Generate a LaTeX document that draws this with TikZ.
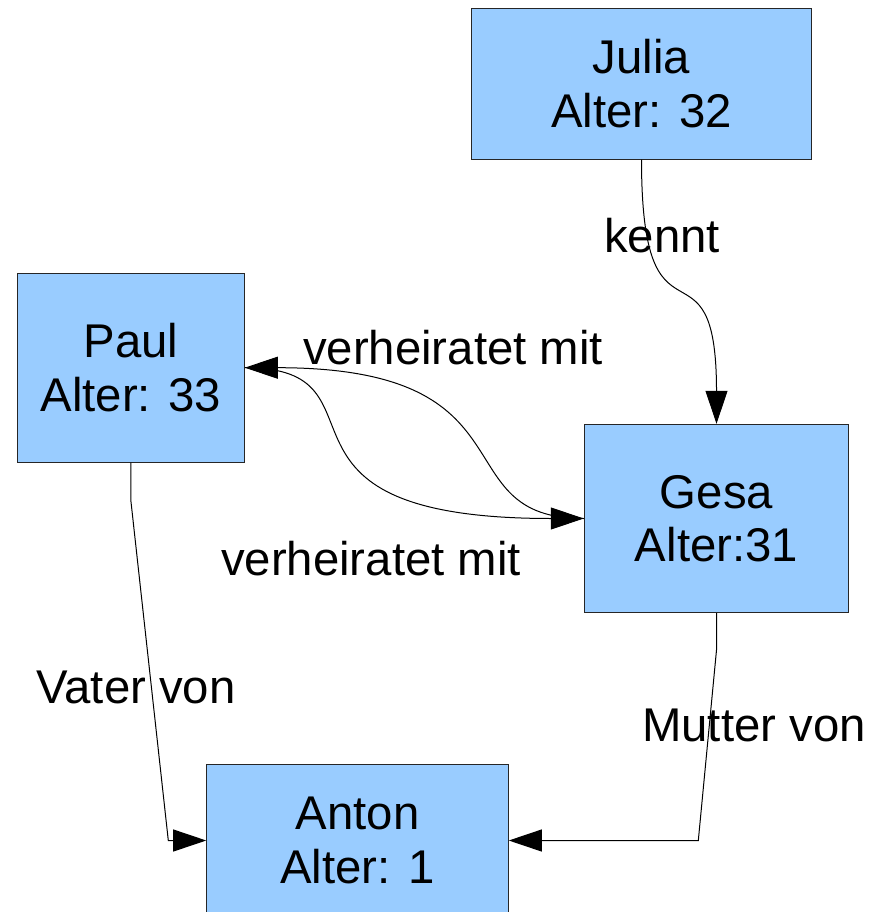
\documentclass[tikz,border=0pt]{standalone}
\usepackage{fontspec}
\setmainfont{Liberation Sans}
\usetikzlibrary{arrows.meta}
\definecolor{boxblue}{RGB}{153,204,255}
\tikzset{
  person/.style={draw=black!85, line width=0.75pt, fill=boxblue, align=center,
    font=\fontsize{35.5}{40}\selectfont, inner sep=0pt},
  conn/.style={line width=0.75pt, -{Triangle[length=24.75pt,width=16.5pt]}},
  lbl/.style={anchor=base, inner sep=0pt, font=\fontsize{35.5}{40}\selectfont}
}
\begin{document}
\begin{tikzpicture}[x=0.75pt,y=-0.75pt]
\useasboundingbox (0,0) rectangle (884,912);
\clip (0,0) rectangle (884,912);

\node[person, minimum width=255pt, minimum height=113.25pt] (julia) at (641.5,83.6) {Julia\\Alter: 32};
\node[person, minimum width=170.25pt, minimum height=141.5pt] (paul) at (130.8,367.7) {Paul\\Alter: 33};
\node[person, minimum width=198.3pt, minimum height=141.3pt] (gesa) at (716.5,518.5) {Gesa\\Alter:31};
\node[person, minimum width=226.2pt, minimum height=114pt] (anton) at (357.5,840.5) {Anton\\Alter: 1};

\coordinate (pv1) at (130.8,500);
\coordinate (pv2) at (168.3,840.5);
\coordinate (gm1) at (716.5,650);
\coordinate (gm2) at (698.3,840.5);

\draw[conn] (julia.south) .. controls (641.5,367) and (716.5,224) .. (gesa.north);
\draw[conn] (paul.east) .. controls (400,367.7) and (240,518.5) .. (gesa.west);
\draw[conn] (gesa.west) .. controls (440,518.5) and (540,367.7) .. (paul.east);
\draw[conn] (paul.south) -- (pv1) -- (pv2) -- (anton.west);
\draw[conn] (gesa.south) -- (gm1) -- (gm2) -- (anton.east);

\node[lbl] (lkennt) at (662,253) {kennt};
\node[lbl] (lverh1) at (453,364) {verheiratet mit};
\node[lbl] (lverh2) at (371,575) {verheiratet mit};
\node[lbl] (lvater) at (136,703) {Vater von};
\node[lbl] (lmutter) at (754,741.7) {Mutter von};
\end{tikzpicture}
\end{document}
